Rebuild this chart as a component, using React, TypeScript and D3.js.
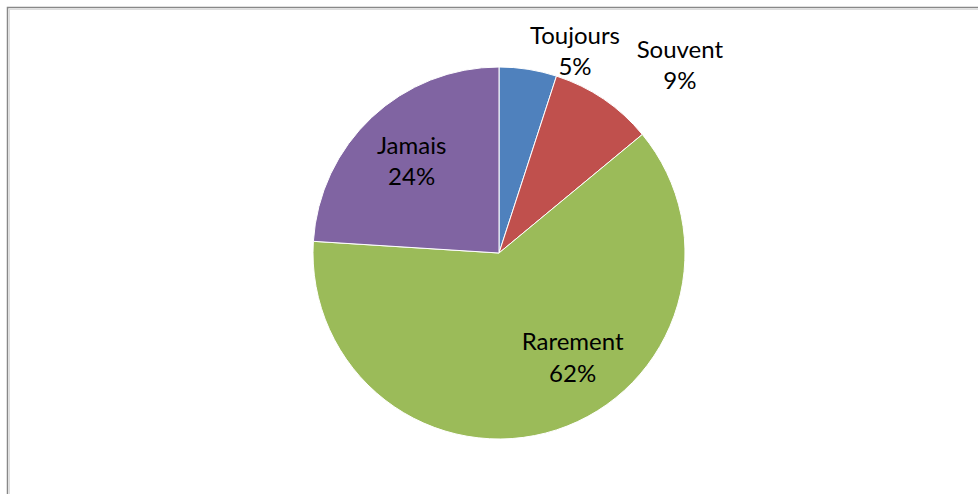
import { useEffect, useRef } from 'react';
import * as d3 from 'd3';

const CATEGORIES = ['Toujours', 'Souvent', 'Rarement', 'Jamais'];
const VALUES = [5, 9, 62, 24];
const COLORS = ['#4F81BD', '#C0504D', '#9BBB59', '#8064A2'];

// label placement: angle (deg, clockwise from top) and distance as a fraction of the radius
const LABEL_PLACEMENT = [
  { angle: 20.7, dist: 1.156 },
  { angle: 44, dist: 1.4 },
  { angle: 145, dist: 0.69 },
  { angle: 316.3, dist: 0.68 },
];

export default function App() {
  const svgRef = useRef<SVGSVGElement>(null);

  useEffect(() => {
    if (!svgRef.current) return;
    const width = 978;
    const height = 494;
    const cx = 499;
    const cy = 253;
    const radius = 186;

    const svg = d3.select(svgRef.current);
    svg.selectAll('*').remove();
    svg.attr('width', width).attr('height', height);

    // chart frame (runs off the right and bottom edges)
    svg.append('rect')
      .attr('x', 7.5).attr('y', 7.5)
      .attr('width', width + 20).attr('height', height + 20)
      .attr('fill', '#fff')
      .attr('stroke', '#888')
      .attr('stroke-width', 1.5);
    svg.append('line')
      .attr('x1', 9).attr('y1', 9.5).attr('x2', width).attr('y2', 9.5)
      .attr('stroke', '#ddd').attr('stroke-width', 1);
    svg.append('line')
      .attr('x1', 9.5).attr('y1', 9).attr('x2', 9.5).attr('y2', height)
      .attr('stroke', '#ddd').attr('stroke-width', 1);

    const data = CATEGORIES.map((c, i) => ({ label: c, value: VALUES[i], color: COLORS[i] }));
    const pie = d3.pie<typeof data[number]>().value((d) => d.value).sort(null);
    const arc = d3.arc<d3.PieArcDatum<typeof data[number]>>().innerRadius(0).outerRadius(radius);

    const g = svg.append('g').attr('transform', `translate(${cx},${cy})`);

    g.selectAll('path')
      .data(pie(data))
      .join('path')
      .attr('d', arc)
      .attr('fill', (d) => d.data.color)
      .attr('stroke', '#fff')
      .attr('stroke-width', 1);

    const total = d3.sum(VALUES);
    data.forEach((d, i) => {
      const p = LABEL_PLACEMENT[i];
      const a = (p.angle * Math.PI) / 180;
      const x = Math.sin(a) * radius * p.dist;
      const y = -Math.cos(a) * radius * p.dist;
      const t = g.append('text')
        .attr('text-anchor', 'middle')
        .attr('font-family', 'Lato, "Open Sans", sans-serif')
        .attr('font-size', '24px')
        .attr('fill', '#000');
      t.append('tspan')
        .attr('x', x).attr('y', y - 17.5)
        .attr('dominant-baseline', 'central')
        .text(d.label);
      t.append('tspan')
        .attr('x', x).attr('y', y + 14)
        .attr('dominant-baseline', 'central')
        .text(`${Math.round((d.value / total) * 100)}%`);
    });
  }, []);

  return <svg ref={svgRef} style={{ position: 'absolute', left: 0, top: 0, display: 'block' }} />;
}
